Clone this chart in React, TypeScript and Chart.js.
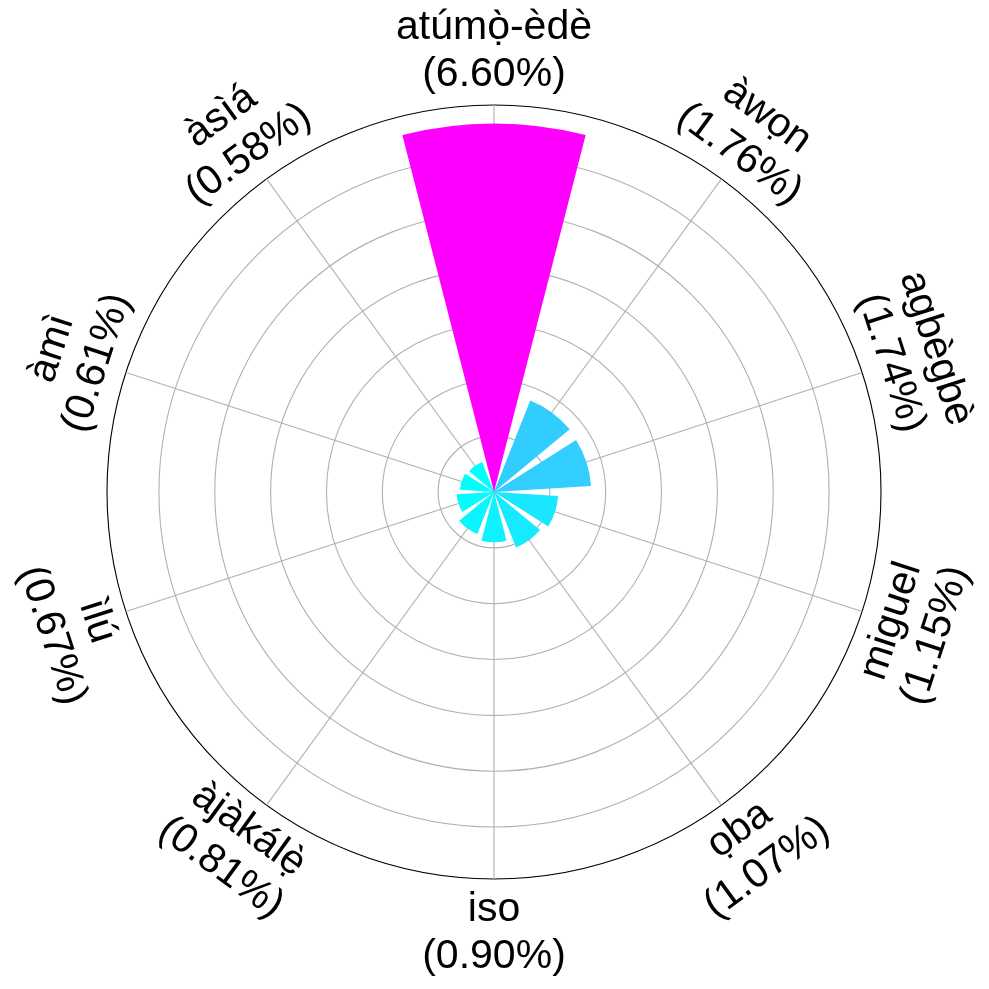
import React, { useEffect, useRef } from 'react';
import { Chart, registerables } from 'chart.js';

Chart.register(...registerables);

// ---- data ----
const categories = [
  'at\u00fam\u1ecd\u0300-\u00e8d\u00e8',
  '\u00e0w\u1ecdn',
  'agb\u00e8gb\u00e8',
  'miguel',
  '\u1ecdba',
  'iso',
  '\u00e0j\u00e0k\u00e1l\u1eb9\u0300',
  '\u00ecl\u00fa',
  '\u00e0m\u00ec',
  '\u00e0s\u00ec\u00e1',
];
const shares = [6.6, 1.76, 1.74, 1.15, 1.07, 0.9, 0.81, 0.67, 0.61, 0.58];
const ringTicks = [0, 1, 2, 3, 4, 5, 6];
const R_MAX = 6.93;

// ---- styling ----
const BAR_FRACTION = 0.8;
const FONT = '41px "Liberation Sans", Arial, sans-serif';
const LINE_HEIGHT = 47;
const LABEL_GAP = 54;

function coolColor(v: number, lo: number, hi: number) {
  const t = hi === lo ? 0 : (v - lo) / (hi - lo);
  const r = Math.round(255 * t);
  const g = Math.round(255 * (1 - t));
  return `rgb(${r},${g},255)`;
}

// Build interleaved table (gap, bar, gap, bar, ...) so bars are centred on labels
const n = categories.length;
const step = 360 / n;
const barDeg = step * BAR_FRACTION;
const gapDeg = step - barDeg;
const lo = Math.min(...shares);
const hi = Math.max(...shares);
const tableLabels: string[] = [];
const tableData: number[] = [];
const tableAngles: number[] = [];
const tableColors: string[] = [];
categories.forEach((c, k) => {
  tableLabels.push('');
  tableData.push(0);
  tableAngles.push(k === 0 ? gapDeg / 2 : gapDeg);
  tableColors.push('rgba(0,0,0,0)');
  tableLabels.push(c);
  tableData.push(shares[k]);
  tableAngles.push(barDeg);
  tableColors.push(coolColor(shares[k], lo, hi));
});

const labelPlugin = {
  id: 'rotatedPointLabels',
  afterDraw(chart: any) {
    const scale = chart.scales.r;
    const ctx = chart.ctx as CanvasRenderingContext2D;
    ctx.save();
    ctx.font = FONT;
    ctx.fillStyle = '#000';
    ctx.textAlign = 'center';
    ctx.textBaseline = 'middle';
    categories.forEach((name, k) => {
      const idx = 2 * k + 1;
      const pos = scale.getPointPosition(idx, scale.drawingArea + LABEL_GAP);
      let a = scale.getIndexAngle(idx);
      if (a > Math.PI / 2 && a < (3 * Math.PI) / 2) a -= Math.PI;
      const lines = [name, `(${shares[k].toFixed(2)}%)`];
      ctx.save();
      ctx.translate(pos.x, pos.y);
      ctx.rotate(a);
      lines.forEach((ln, j) => {
        ctx.fillText(ln, 0, (j - (lines.length - 1) / 2) * LINE_HEIGHT);
      });
      ctx.restore();
    });
    ctx.restore();
  },
};

export default function App() {
  const ref = useRef<HTMLCanvasElement | null>(null);
  useEffect(() => {
    if (!ref.current) return;
    const chart = new Chart(ref.current, {
      type: 'polarArea',
      data: {
        labels: tableLabels,
        datasets: [
          {
            data: tableData,
            backgroundColor: tableColors,
            borderWidth: 0,
            angle: (c: any) => tableAngles[c.dataIndex],
          } as any,
        ],
      },
      options: {
        responsive: false,
        animation: false,
        layout: { padding: { left: 107, right: 108, top: 105, bottom: 110 } },
        plugins: { legend: { display: false }, tooltip: { enabled: false } },
        scales: {
          r: {
            type: 'radialLinear',
            min: 0,
            max: R_MAX,
            startAngle: -step / 2,
            ticks: { display: false },
            afterBuildTicks: (s: any) => {
              s.ticks = [...ringTicks, R_MAX].map((v) => ({ value: v }));
            },
            grid: {
              circular: true,
              color: (c: any) => (c.tick && c.tick.value === R_MAX ? '#000000' : '#b0b0b0'),
              lineWidth: 1.1,
            },
            angleLines: {
              display: true,
              color: '#b0b0b0',
              lineWidth: (c: any) => (c.index % 2 === 1 ? 1.1 : 0),
            },
            pointLabels: { display: false },
          } as any,
        },
      },
      plugins: [labelPlugin],
    });
    return () => chart.destroy();
  }, []);
  return (
    <div style={{ position: 'absolute', left: 0, top: 0, width: 989, height: 989, background: '#fff' }}>
      <canvas ref={ref} width={989} height={989} style={{ display: 'block' }} />
    </div>
  );
}
